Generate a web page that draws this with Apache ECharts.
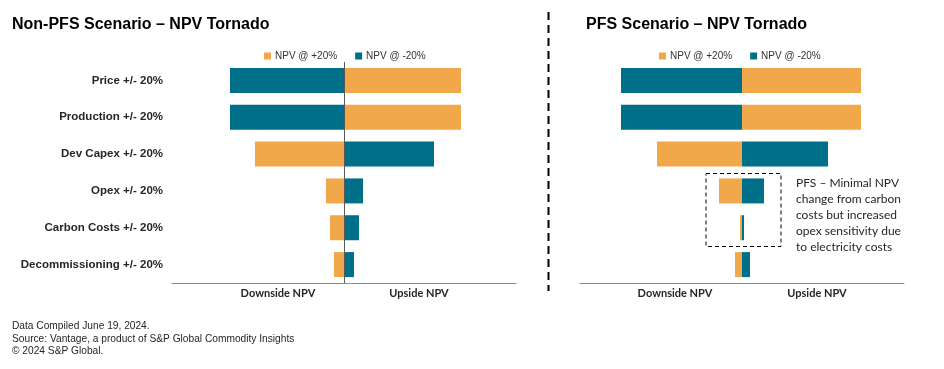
<!DOCTYPE html>
<html><head><meta charset="utf-8">
<script src="https://cdn.jsdelivr.net/npm/echarts@6/dist/echarts.min.js"></script>
<style>html,body{margin:0;padding:0;background:#fff}#c{width:944px;height:369px}</style>
</head><body><div id="c"></div>
<script>
const categories = ['Price +/- 20%','Production +/- 20%','Dev Capex +/- 20%','Opex +/- 20%','Carbon Costs +/- 20%','Decommissioning +/- 20%'];
// NPV change (relative units)
const nonPfsPlus20 = [117, 117, -89, -18, -14, -10];
const nonPfsMinus20 = [-114, -114, 90, 19, 15, 10];
const pfsPlus20 = [119, 119, -85, -23, -2, -7];
const pfsMinus20 = [-121, -121, 86, 22, 2, 8];
const seriesNames = ['NPV @ +20%', 'NPV @ -20%'];
const titles = ['Non-PFS Scenario – NPV Tornado', 'PFS Scenario – NPV Tornado'];
const axisNames = ['Downside NPV', 'Upside NPV'];
const footer = ['Data Compiled June 19, 2024.', 'Source: Vantage, a product of S&P Global Commodity Insights', '© 2024 S&P Global.'];
const note = 'PFS – Minimal NPV\nchange from carbon\ncosts but increased\nopex sensitivity due\nto electricity costs';

const ORANGE = '#F1A84B', TEAL = '#006F89';
const chart = echarts.init(document.getElementById('c'));
function xAx(i, lim){return {gridIndex:i, type:'value', min:-lim, max:lim,
  axisLine:{show:true, onZero:false, lineStyle:{color:'#8c8c8c', width:1}},
  axisTick:{show:false}, axisLabel:{show:false}, splitLine:{show:false}};}
function yAx(i, showLabels){return {gridIndex:i, type:'category', data:categories, inverse:true,
  axisLine:{show:false, onZero:false}, axisTick:{show:false},
  axisLabel:{show:showLabels, margin:9, color:'#262626', fontFamily:'Liberation Sans, Arial', fontWeight:'bold', fontSize:11.5}};}
function bar(name, xi, data, color, mark){
  const s = {name, type:'bar', xAxisIndex:xi, yAxisIndex:xi, data, barWidth:25, barGap:'-100%',
    itemStyle:{color}, silent:true};
  if(mark) s.markLine = {silent:true, symbol:'none', label:{show:false},
    lineStyle:{color:'#595959', type:'solid', width:1}, data:[{xAxis:0}]};
  return s;
}
const ff = 'Liberation Sans, Arial';
function legend(left){return {left, top:46, icon:'rect', itemWidth:7, itemHeight:7, itemGap:18,
  textStyle:{fontFamily:ff, fontSize:10, color:'#333', padding:[0,0,0,-1]}, data:seriesNames, selectedMode:false};}
const option = {
  animation:false,
  title:[
    {text:titles[0], left:7, top:12, textStyle:{fontFamily:ff, fontSize:16, fontWeight:'bold', color:'#000'}},
    {text:titles[1], left:581, top:12, textStyle:{fontFamily:ff, fontSize:16, fontWeight:'bold', color:'#000'}}
  ],
  legend:[legend(259), legend(654)],
  grid:[
    {left:172, width:344, top:62, height:221},
    {left:580, width:324, top:62, height:221}
  ],
  xAxis:[xAx(0,172), xAx(1,162)],
  yAxis:[yAx(0,true), yAx(1,false)],
  series:[
    bar(seriesNames[0], 0, nonPfsPlus20, ORANGE, true),
    bar(seriesNames[1], 0, nonPfsMinus20, TEAL, false),
    bar(seriesNames[0], 1, pfsPlus20, ORANGE, false),
    bar(seriesNames[1], 1, pfsMinus20, TEAL, false)
  ],
  graphic:[
    {type:'line', shape:{x1:548.5, y1:12, x2:548.5, y2:291}, style:{stroke:'#000', lineWidth:2, lineDash:[8,5]}},
    {type:'rect', shape:{x:706, y:173.5, width:75, height:73}, style:{fill:'none', stroke:'#000', lineWidth:1, lineDash:[4,3]}},
    {type:'text', x:796, y:175, style:{text:note, fontFamily:'Lato', fontSize:12, lineHeight:16, fill:'#262626'}},
    {type:'text', x:278, y:293, style:{text:axisNames[0], fontFamily:'Lato', fontWeight:'bold', fontSize:11, fill:'#262626', align:'center', verticalAlign:'middle'}},
    {type:'text', x:419, y:293, style:{text:axisNames[1], fontFamily:'Lato', fontWeight:'bold', fontSize:11, fill:'#262626', align:'center', verticalAlign:'middle'}},
    {type:'text', x:675, y:293, style:{text:axisNames[0], fontFamily:'Lato', fontWeight:'bold', fontSize:11, fill:'#262626', align:'center', verticalAlign:'middle'}},
    {type:'text', x:817, y:293, style:{text:axisNames[1], fontFamily:'Lato', fontWeight:'bold', fontSize:11, fill:'#262626', align:'center', verticalAlign:'middle'}},
    {type:'text', x:12, y:320, style:{text:footer.join('\n'), fontFamily:ff, fontSize:10.2, lineHeight:12.5, fill:'#262626'}}
  ]
};
chart.setOption(option);
</script></body></html>
